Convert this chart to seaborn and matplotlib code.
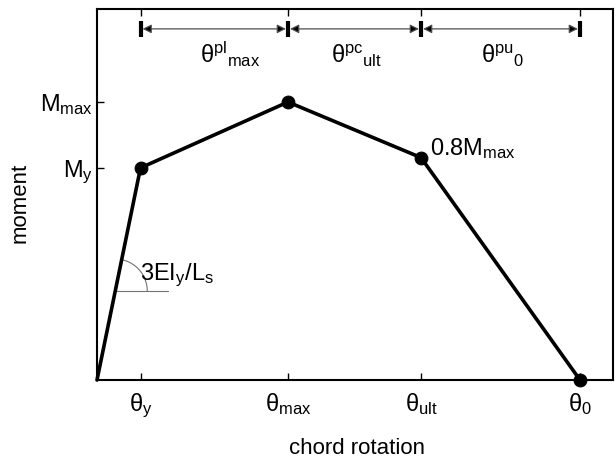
import numpy as np
import pandas as pd
import matplotlib
matplotlib.use("Agg")
import matplotlib.pyplot as plt
import seaborn as sns

# ---- data ----
rotation = [0.0, 0.435, 1.91, 3.24, 4.83]
moment = [0.0, 0.763, 1.0, 0.8, 0.0]
x_ticks = [0.435, 1.91, 3.24, 4.83]
x_tick_labels = [r"$\theta_{y}$", r"$\theta_{max}$", r"$\theta_{ult}$", r"$\theta_{0}$"]
y_ticks = [0.763, 1.0]
y_tick_labels = [r"$M_{y}$", r"$M_{max}$"]
span_labels = [r"$\theta^{pl}{}_{max}$", r"$\theta^{pc}{}_{ult}$", r"$\theta^{pu}{}_{0}$"]
span_label_x = [1.33, 2.60, 4.06]

sns.set_theme(style="white")
plt.rcParams["font.family"] = ["Liberation Sans", "DejaVu Sans"]
plt.rcParams["mathtext.fontset"] = "custom"
plt.rcParams["mathtext.rm"] = "Liberation Sans"
plt.rcParams["mathtext.it"] = "Liberation Sans"
plt.rcParams["mathtext.bf"] = "Liberation Sans:bold"
plt.rcParams["mathtext.sf"] = "Liberation Sans"
plt.rcParams["mathtext.default"] = "rm"
plt.rcParams["text.color"] = "black"
plt.rcParams["axes.labelcolor"] = "black"
plt.rcParams["xtick.color"] = "black"
plt.rcParams["ytick.color"] = "black"

fig = plt.figure(figsize=(6.16, 4.58), dpi=100)
ax = fig.add_axes([97 / 616, 78 / 458, 516 / 616, 371 / 458])

df = pd.DataFrame({"rotation": rotation, "moment": moment})
sns.lineplot(data=df, x="rotation", y="moment", sort=False, color="black",
             linewidth=2.6, ax=ax, clip_on=False, zorder=3)
sns.scatterplot(data=df.iloc[1:], x="rotation", y="moment", color="black",
                s=85, edgecolor="black", ax=ax, clip_on=False, zorder=4)

ax.set_xlim(0, 5.16)
ax.set_ylim(0, 371 / 278)

ax.set_xticks(x_ticks)
ax.set_xticklabels(x_tick_labels, fontsize=17)
ax.set_yticks(y_ticks)
ax.set_yticklabels(y_tick_labels, fontsize=17)
ax.tick_params(axis="x", direction="in", length=5, width=1, top=True,
               bottom=True, labeltop=False, color="black", pad=8)
ax.tick_params(axis="y", direction="in", length=5, width=1, left=True,
               right=False, color="black", pad=3)

for sp in ax.spines.values():
    sp.set_visible(True)
    sp.set_color("black")
    sp.set_linewidth(1.5)

ax.set_xlabel("chord rotation", fontsize=16)
ax.set_ylabel("moment", fontsize=16)
ax.xaxis.set_label_coords(0.504, -0.157)
ax.yaxis.set_label_coords(-0.128, 0.477)

# dimension arrows at top
ya = 1.263
for a, b in zip(x_ticks[:-1], x_ticks[1:]):
    ax.annotate("", xy=(b, ya), xytext=(a, ya),
                arrowprops=dict(arrowstyle="<|-|>", fc="black", ec="0.3",
                                lw=0.9, shrinkA=1.5, shrinkB=1.5,
                                mutation_scale=13))
ax.plot(x_ticks, [ya] * len(x_ticks), ls="none", marker="|", ms=11,
        mew=3, color="black", zorder=5)
for lx, lab in zip(span_label_x, span_labels):
    ax.text(lx, 1.140, lab, ha="center", va="baseline", fontsize=17)

# point labels
ax.text(3.33, 0.809, r"$0.8M_{max}$", ha="left", va="baseline", fontsize=17)
ax.text(0.43, 0.36, r"$3EI_{y}/L_{s}$", ha="left", va="baseline", fontsize=17)

# slope angle marker
y0 = 0.32
x0 = rotation[1] * y0 / moment[1]
ax.plot([x0, 0.71], [y0, y0], color="0.45", lw=0.8)
fig.canvas.draw()
cx, cy = ax.transData.transform((x0, y0))
sx, sy = ax.transData.transform((rotation[1], moment[1]))
ang = np.arctan2(sy - cy, sx - cx)
r = 32
t = np.linspace(0, ang, 40)
pts = np.column_stack([cx + r * np.cos(t), cy + r * np.sin(t)])
arc = ax.transData.inverted().transform(pts)
ax.plot(arc[:, 0], arc[:, 1], color="0.45", lw=0.8)

fig.savefig("out.png", dpi=100)
